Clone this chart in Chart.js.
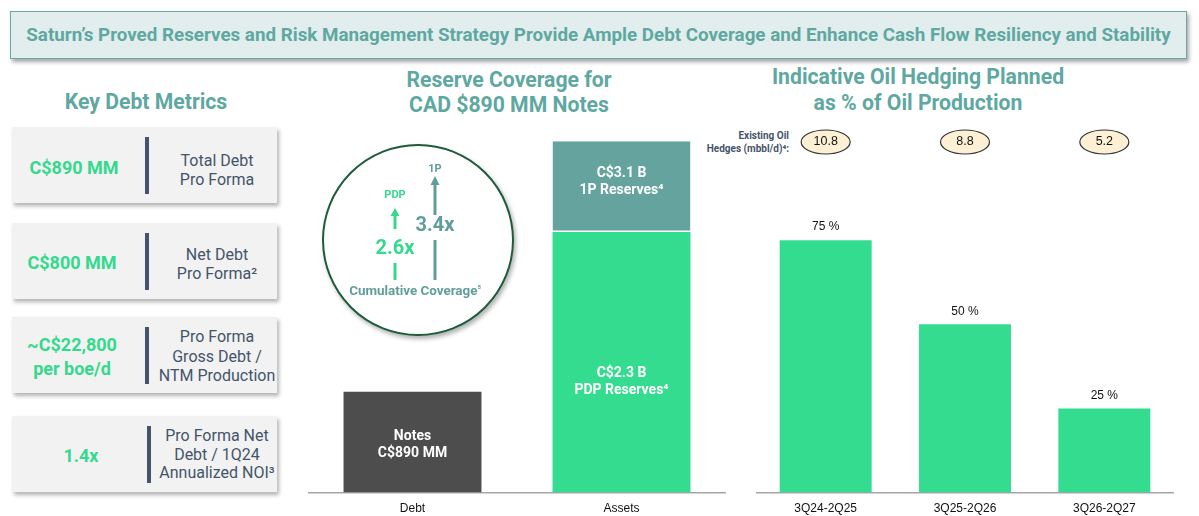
<!DOCTYPE html>
<html><head><meta charset="utf-8">
<script src="https://cdn.jsdelivr.net/npm/chart.js@4.4.1/dist/chart.umd.min.js"></script>
<style>
html,body{margin:0;padding:0;background:#fff;}
body{width:1199px;height:516px;position:relative;overflow:hidden;font-family:Roboto,'Liberation Sans',Arial,sans-serif;}
.abs{position:absolute;}
#banner{left:10px;top:11px;width:1175px;height:46px;background:#e2eeed;border:1.5px solid #6aa9a3;box-shadow:2px 3px 4px rgba(0,0,0,.35);color:#5ea8a1;font-weight:bold;font-size:18.8px;line-height:46px;text-align:center;white-space:nowrap;}
.h{color:#5ea8a1;font-weight:bold;font-size:21.2px;line-height:25px;text-align:center;white-space:nowrap;}
.box{position:absolute;left:12px;width:265px;height:76px;background:#f2f2f2;box-shadow:2px 3px 4px rgba(0,0,0,.3);}
.bar{position:absolute;left:133px;width:4px;top:10px;bottom:9px;background:#44546a;}
.val{position:absolute;left:-5px;color:#34d98d;font-weight:bold;font-size:18px;line-height:22px;text-align:center;width:130px;white-space:nowrap;}
.desc{position:absolute;left:140px;color:#44546a;font-size:16px;line-height:19px;text-align:center;width:130px;white-space:nowrap;}
#hedgeLbl{left:689px;top:129px;width:100px;text-align:right;color:#44546a;font-weight:bold;font-size:10px;line-height:13px;white-space:nowrap;}
canvas{position:absolute;}
#deco{position:absolute;left:0;top:0;}
</style></head>
<body>
<div id="banner" class="abs">Saturn’s Proved Reserves and Risk Management Strategy Provide Ample Debt Coverage and Enhance Cash Flow Resiliency and Stability</div>

<div class="abs h" style="left:46px;top:89px;width:200px;">Key Debt Metrics</div>
<div class="abs h" style="left:359px;top:67px;width:300px;">Reserve Coverage for<br>CAD $890 MM Notes</div>
<div class="abs h" style="left:768px;top:64px;width:300px;line-height:26px;">Indicative Oil Hedging Planned<br>as % of Oil Production</div>

<div class="box" style="top:127px;"><div class="bar"></div>
  <div class="val" style="top:30px;left:-3px;">C$890 MM</div>
  <div class="desc" style="top:24px;">Total Debt<br>Pro Forma</div></div>
<div class="box" style="top:223px;"><div class="bar"></div>
  <div class="val" style="top:29px;">C$800 MM</div>
  <div class="desc" style="top:22px;">Net Debt<br>Pro Forma²</div></div>
<div class="box" style="top:317px;"><div class="bar"></div>
  <div class="val" style="top:16px;line-height:24px;">~C$22,800<br>per boe/d</div>
  <div class="desc" style="top:10px;line-height:19.5px;">Pro Forma<br>Gross Debt /<br>NTM Production</div></div>
<div class="box" style="top:416px;"><div class="bar" style="left:135px;"></div>
  <div class="val" style="top:29px;left:4px;">1.4x</div>
  <div class="desc" style="top:11px;line-height:18.5px;">Pro Forma Net<br>Debt / 1Q24<br>Annualized NOI³</div></div>

<div id="hedgeLbl" class="abs">Existing Oil<br>Hedges (mbbl/d)⁴:</div>

<canvas id="cov" width="418" height="396" style="left:308px;top:130px;"></canvas>
<canvas id="hedge" width="418" height="406" style="left:756px;top:120px;"></canvas>

<svg id="deco" width="1199" height="516" viewBox="0 0 1199 516">
  <defs>
    <filter id="sh" x="-20%" y="-20%" width="140%" height="140%">
      <feDropShadow dx="2" dy="3" stdDeviation="2" flood-color="#000" flood-opacity="0.3"/>
    </filter>
  </defs>
  <circle cx="418" cy="240" r="95" fill="#fff" stroke="#1f5c3c" stroke-width="2" filter="url(#sh)"/>
  <g font-family="Roboto, sans-serif" font-weight="bold" text-anchor="middle" dominant-baseline="central">
    <text x="435" y="168" font-size="11" fill="#5f9e9b">1P</text>
    <polygon points="430.5,185 439.5,185 435,176" fill="#5f9e9b"/>
    <rect x="433.5" y="184" width="3" height="31" fill="#5f9e9b"/>
    <text x="435" y="224" font-size="20" fill="#5f9e9b">3.4x</text>
    <rect x="433.5" y="240" width="3" height="40" fill="#5f9e9b"/>
    <text x="395" y="194" font-size="11" fill="#34d98d">PDP</text>
    <polygon points="390.5,216 399.5,216 395,208" fill="#34d98d"/>
    <rect x="393.5" y="215" width="3" height="14" fill="#34d98d"/>
    <text x="395" y="247" font-size="20" fill="#34d98d">2.6x</text>
    <rect x="393.5" y="263" width="3" height="17" fill="#34d98d"/>
    <text x="415" y="290" font-size="13.4" fill="#5f9e9b">Cumulative Coverage<tspan font-size="6" dy="-4">5</tspan></text>
  </g>
</svg>

<script>
// ---- Reserve coverage chart data (C$ billions) ----
const coverageCats = ['Debt', 'Assets'];
const notesVals = [0.89, null];
const pdpVals = [null, 2.3];
const p1IncrementVals = [null, 0.8];   // 1P total 3.1 minus PDP 2.3
const notesText = ['Notes', 'C$890 MM'];
const pdpText = ['C$2.3 B', 'PDP Reserves⁴'];
const p1Text = ['C$3.1 B', '1P Reserves⁴'];

// ---- Hedging chart data ----
const hedgeCats = ['3Q24-2Q25', '3Q25-2Q26', '3Q26-2Q27'];
const hedgePct = [75, 50, 25];
const existingHedges = [10.8, 8.8, 5.2];

const GREEN = '#34dc8f';
const TEAL = '#64a39e';
const DARK = '#4d4d4d';

const tickFont = {family: "'Liberation Sans', Arial, sans-serif", size: 12};

const inBarLabels = {
  id: 'inBarLabels',
  afterDatasetsDraw(chart) {
    const ctx = chart.ctx;
    chart.data.datasets.forEach((ds, i) => {
      const meta = chart.getDatasetMeta(i);
      meta.data.forEach((el, j) => {
        if (ds.data[j] == null) return;
        const top = Math.min(el.y, el.base), bot = Math.max(el.y, el.base);
        const cy = top + (bot - top) * ds.labelPos;
        ctx.save();
        ctx.fillStyle = '#fff';
        ctx.font = 'bold 14px Roboto, sans-serif';
        ctx.textAlign = 'center';
        ctx.textBaseline = 'middle';
        const lines = ds.labelLines;
        lines.forEach((t, k) => ctx.fillText(t, el.x, cy + (k - (lines.length - 1) / 2) * 17));
        ctx.restore();
      });
    });
  }
};

new Chart(document.getElementById('cov'), {
  type: 'bar',
  data: {
    labels: coverageCats,
    datasets: [
      {data: notesVals, backgroundColor: DARK, labelLines: notesText, labelPos: 0.53},
      {data: pdpVals, backgroundColor: GREEN, labelLines: pdpText, labelPos: 0.575},
      {data: p1IncrementVals, backgroundColor: TEAL, labelLines: p1Text, labelPos: 0.45,
       borderColor: '#ffffff', borderWidth: {bottom: 1.5, top: 0, left: 0, right: 0}, borderSkipped: false}
    ]
  },
  options: {
    responsive: false, animation: false,
    barPercentage: 0.66, categoryPercentage: 1,
    layout: {padding: {top: 0, bottom: 1, left: 0, right: 0}},
    plugins: {legend: {display: false}, tooltip: {enabled: false}},
    scales: {
      x: {stacked: true, grid: {display: false, drawTicks: false},
          border: {display: true, color: '#a6a6a6', width: 1.5},
          ticks: {color: '#111', font: tickFont, padding: 9}},
      y: {stacked: true, display: false, min: 0, max: 3.2}
    }
  },
  plugins: [inBarLabels]
});

const hedgeDeco = {
  id: 'hedgeDeco',
  afterDatasetsDraw(chart) {
    const ctx = chart.ctx;
    const meta = chart.getDatasetMeta(0);
    ctx.save();
    ctx.font = '12px "Liberation Sans", Arial, sans-serif';
    ctx.textAlign = 'center';
    ctx.textBaseline = 'middle';
    ctx.fillStyle = '#111';
    meta.data.forEach((el, j) => ctx.fillText(hedgePct[j] + ' %', el.x, el.y - 13));
    const xs = chart.scales.x;
    ctx.font = '12.5px "Liberation Sans", Arial, sans-serif';
    existingHedges.forEach((v, j) => {
      const x = xs.getPixelForValue(j);
      ctx.beginPath();
      ctx.ellipse(x, 22, 24.5, 12, 0, 0, Math.PI * 2);
      ctx.fillStyle = '#fdf0d4';
      ctx.fill();
      ctx.lineWidth = 1.2;
      ctx.strokeStyle = '#333';
      ctx.stroke();
      ctx.fillStyle = '#111';
      ctx.fillText(v.toFixed(1), x, 22);
    });
    ctx.restore();
  }
};

new Chart(document.getElementById('hedge'), {
  type: 'bar',
  data: {
    labels: hedgeCats,
    datasets: [{data: hedgePct, backgroundColor: GREEN}]
  },
  options: {
    responsive: false, animation: false,
    barPercentage: 0.66, categoryPercentage: 1,
    layout: {padding: {top: 36, bottom: 1, left: 0, right: 0}},
    plugins: {legend: {display: false}, tooltip: {enabled: false}},
    scales: {
      x: {grid: {display: false, drawTicks: false},
          border: {display: true, color: '#a6a6a6', width: 1.5},
          ticks: {color: '#111', font: tickFont, padding: 9}},
      y: {display: false, min: 0, max: 100}
    }
  },
  plugins: [hedgeDeco]
});
</script>
</body></html>
